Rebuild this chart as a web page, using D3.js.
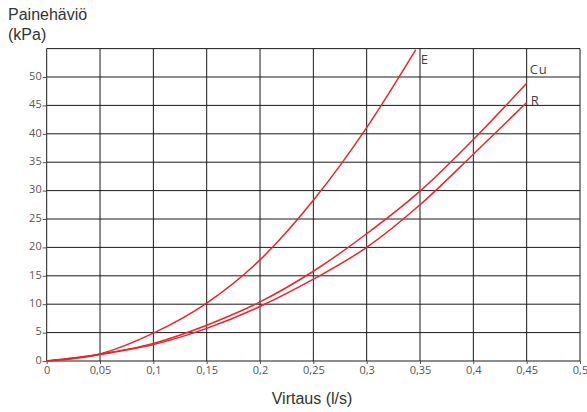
<!DOCTYPE html>
<html>
<head>
<meta charset="utf-8">
<script src="https://cdn.jsdelivr.net/npm/d3@7"></script>
<style>
  html, body { margin: 0; padding: 0; background: #fff; }
  svg { display: block; }
</style>
</head>
<body>
<svg id="chart" width="587" height="412"></svg>
<script>
// Pressure loss (kPa) against flow (l/s) for three pipe materials
const flowE  = [0, 0.05, 0.1, 0.15, 0.2, 0.25, 0.3, 0.346];
const lossE  = [0, 1.25, 4.9, 10.2, 17.8, 28.3, 41.1, 54.8];

const flowCu = [0, 0.05, 0.1, 0.15, 0.2, 0.25, 0.3, 0.35, 0.4, 0.45];
const lossCu = [0, 1.2, 3.1, 6.3, 10.4, 15.8, 22.4, 29.9, 39.0, 48.9];

const flowR  = [0, 0.05, 0.1, 0.15, 0.2, 0.25, 0.3, 0.35, 0.4, 0.45];
const lossR  = [0, 1.15, 2.9, 5.75, 9.6, 14.4, 20.0, 27.5, 36.4, 45.5];

const seriesNames = ["E", "Cu", "R"];
const xTicks = [0, 0.05, 0.1, 0.15, 0.2, 0.25, 0.3, 0.35, 0.4, 0.45, 0.5];
const yTicks = [0, 5, 10, 15, 20, 25, 30, 35, 40, 45, 50];
const yGrid  = [0, 5, 10, 15, 20, 25, 30, 35, 40, 45, 50, 55];

const yTitle = ["Painehäviö", "(kPa)"];
const xTitle = "Virtaus (l/s)";

const svg = d3.select("#chart");
const x = d3.scaleLinear().domain([0, 0.5]).range([46.7, 580]);
const y = d3.scaleLinear().domain([0, 55]).range([361, 48.6]);

const fmt = d => String(d).replace(".", ",");
const tickFont = "'Open Sans', sans-serif";
const gridColor = "#1a1a1a";

// grid
const grid = svg.append("g");
grid.selectAll("line.v").data(xTicks).join("line")
  .attr("x1", d => x(d)).attr("x2", d => x(d))
  .attr("y1", y(0)).attr("y2", y(55))
  .attr("stroke", gridColor).attr("stroke-width", 1);
grid.selectAll("line.h").data(yGrid).join("line")
  .attr("x1", x(0)).attr("x2", x(0.5))
  .attr("y1", d => y(d)).attr("y2", d => y(d))
  .attr("stroke", gridColor).attr("stroke-width", 1);

// axes
const yAxis = d3.axisLeft(y).tickValues(yTicks).tickFormat(d => d).tickSize(4).tickPadding(1);
const gy = svg.append("g").attr("transform", `translate(${x(0)},0)`).call(yAxis);
gy.select(".domain").remove();
gy.selectAll(".tick line").attr("stroke", "#555");
gy.selectAll(".tick text")
  .attr("fill", "#555").attr("font-family", tickFont).attr("font-size", 11)
  .attr("dy", "0.2em");

const xAxis = d3.axisBottom(x).tickValues(xTicks).tickFormat(fmt).tickSize(3).tickPadding(2);
const gx = svg.append("g").attr("transform", `translate(0,${y(0)})`).call(xAxis);
gx.select(".domain").remove();
gx.selectAll(".tick line").attr("stroke", "#555");
gx.selectAll(".tick text")
  .attr("fill", "#555").attr("font-family", tickFont).attr("font-size", 11);

// curves
const series = [
  { name: seriesNames[0], xs: flowE,  ys: lossE },
  { name: seriesNames[1], xs: flowCu, ys: lossCu },
  { name: seriesNames[2], xs: flowR,  ys: lossR }
];
const line = d3.line()
  .x(d => x(d[0])).y(d => y(d[1]))
  .curve(d3.curveMonotoneX);
svg.append("g").selectAll("path").data(series).join("path")
  .attr("d", s => line(s.xs.map((v, i) => [v, s.ys[i]])))
  .attr("fill", "none").attr("stroke", "#e8262b").attr("stroke-width", 1.5);

// curve labels, placed just past each curve's end
const labelOffsets = { "E": [5, 14], "Cu": [3, -9], "R": [4, 2] };
svg.append("g").selectAll("text").data(series).join("text")
  .attr("x", s => x(s.xs[s.xs.length - 1]) + labelOffsets[s.name][0])
  .attr("y", s => y(s.ys[s.ys.length - 1]) + labelOffsets[s.name][1])
  .attr("font-family", tickFont).attr("font-size", 13).attr("fill", "#444")
  .attr("letter-spacing", s => s.name === "Cu" ? 0.8 : 0)
  .text(s => s.name);

// titles
const titleFont = "'Liberation Sans', Arial, sans-serif";
svg.append("g").selectAll("text").data(yTitle).join("text")
  .attr("x", 8).attr("y", (d, i) => 20 + i * 20)
  .attr("font-family", titleFont).attr("font-size", 16).attr("fill", "#333")
  .text(d => d);
svg.append("text")
  .attr("x", 312).attr("y", 404).attr("text-anchor", "middle")
  .attr("font-family", titleFont).attr("font-size", 16).attr("fill", "#333")
  .text(xTitle);
</script>
</body>
</html>
